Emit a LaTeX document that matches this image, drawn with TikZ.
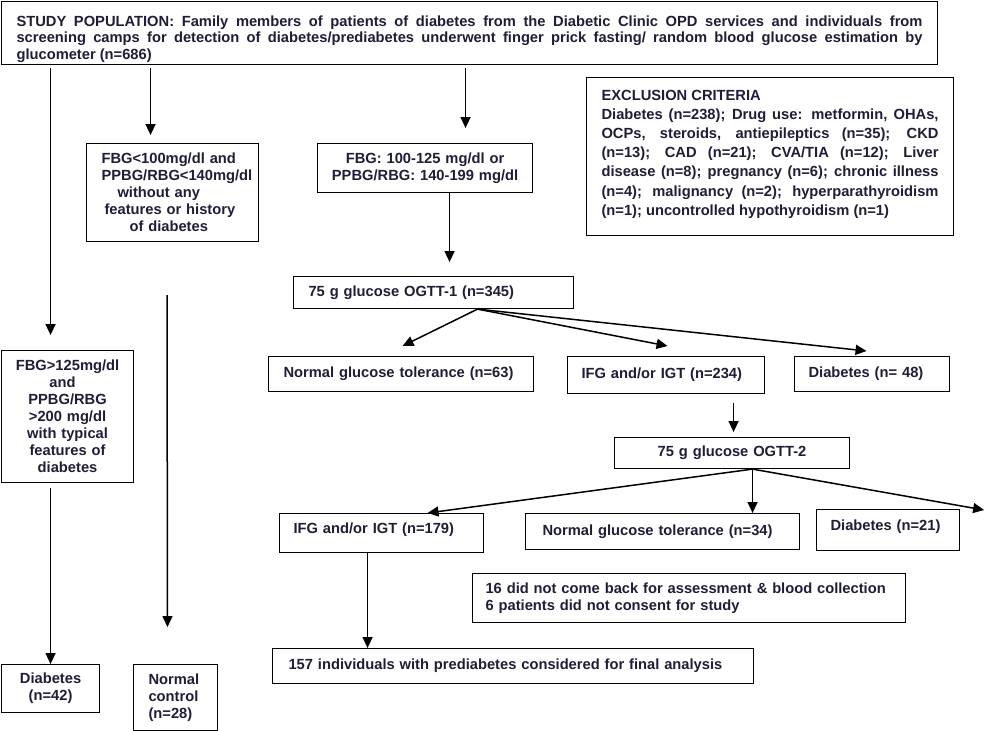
\documentclass[tikz,border=0pt]{standalone}
\usepackage{fontspec}
\setmainfont{Liberation Sans}
\usetikzlibrary{arrows.meta}
\definecolor{txt}{RGB}{30,30,55}
\newcommand\myfnt{\fontsize{14.7}{17}\selectfont\bfseries\hyphenpenalty=10000\tolerance=9999\relax}
\newcommand\myfntT{\fontsize{14.7}{16.5}\selectfont\bfseries\hyphenpenalty=10000\tolerance=9999\relax}
\newcommand\myfntE{\fontsize{14.7}{19.2}\selectfont\bfseries\hyphenpenalty=10000\tolerance=9999\relax}
\begin{document}
\begin{tikzpicture}[x=1pt,y=-1pt,
  box/.style={draw, line width=1.1pt, anchor=north west, inner ysep=0pt, font=\myfnt, text=txt},
  arr/.style={line width=1.5pt, -{Triangle[length=11pt,width=10pt]}}]
\fill[white] (0,0) rectangle (986,731);
\useasboundingbox (0,0) rectangle (986,731);

% boxes
\node[box, font=\myfntT, inner xsep=15pt, text width=906pt, minimum width=936pt, minimum height=63pt, align=justify] (top) at (1,1)
 {\rule{0pt}{22.5pt}STUDY POPULATION: Family members of patients of diabetes from the Diabetic Clinic OPD services and individuals from\linebreak screening camps for detection of diabetes/prediabetes underwent finger prick fasting/ random blood glucose estimation by\linebreak glucometer (n=686)};

\node[box, font=\myfntE, inner xsep=15pt, text width=337pt, minimum height=158pt, align=justify] (excl) at (586,77)
 {EXCLUSION CRITERIA\\Diabetes (n=238); Drug use: metformin, OHAs,\linebreak OCPs, steroids, antiepileptics (n=35); CKD\linebreak (n=13); CAD (n=21); CVA/TIA (n=12); Liver\linebreak disease (n=8); pregnancy (n=6); chronic illness\linebreak (n=4); malignancy (n=2); hyperparathyroidism\linebreak (n=1); uncontrolled hypothyroidism (n=1)\rule[-8pt]{0pt}{8pt}};

\node[box, inner xsep=15pt, text width=142pt, minimum height=98pt, align=left] (fbglow) at (86,143)
 {FBG<100mg/dl and\\PPBG/RBG<140mg/dl\\\hspace*{16pt}without any\\\hspace*{3pt}features or history\\\hspace*{28pt}of diabetes};

\node[box, inner xsep=7pt, text width=201pt, minimum height=49pt, align=center] (fbgmid) at (317,143)
 {FBG: 100-125 mg/dl or\\PPBG/RBG: 140-199 mg/dl};

\node[box, inner xsep=3pt, text width=126pt, minimum height=132pt, align=center] (fbghigh) at (1,350)
 {FBG>125mg/dl\\\hspace*{-10pt}and\\PPBG/RBG\\>200 mg/dl\\with typical\\features of\\diabetes};

\node[box, inner xsep=15pt, text width=250pt, minimum height=32pt, align=left] (ogtt1) at (293,276)
 {75 g glucose OGTT-1 (n=345)};

\node[box, inner xsep=15pt, text width=235pt, minimum height=35pt, align=left] (ngt63) at (268,356)
 {Normal glucose tolerance (n=63)};

\node[box, inner xsep=14pt, text width=169pt, minimum height=37pt, align=left] (ifg234) at (567,356)
 {IFG and/or IGT (n=234)};

\node[box, inner xsep=14pt, text width=127pt, minimum height=35pt, align=left] (diab48) at (794,356)
 {Diabetes (n= 48)};

\node[box, inner xsep=10pt, text width=215pt, minimum height=31pt, align=center] (ogtt2) at (614,437)
 {75 g glucose OGTT-2};

\node[box, inner xsep=14pt, text width=176pt, minimum height=39pt, text depth=9pt, align=left] (ifg179) at (279,513)
 {IFG and/or IGT (n=179)};

\node[box, inner xsep=17pt, text width=240pt, minimum height=36pt, align=left] (ngt34) at (525,513)
 {Normal glucose tolerance (n=34)};

\node[box, inner xsep=14pt, text width=115pt, minimum height=41pt, text depth=9pt, align=left] (diab21) at (816,509)
 {Diabetes (n=21)};

\node[box, inner xsep=13pt, text width=407pt, minimum height=49pt, align=left] (note) at (472,573)
 {16 did not come back for assessment \& blood collection\\6 patients did not consent for study};

\node[box, inner xsep=16pt, text width=449pt, minimum height=35pt, align=left] (final) at (272,648)
 {157 individuals with prediabetes considered for final analysis};

\node[box, inner xsep=5pt, text width=88pt, minimum height=48pt, align=center] (diab42) at (1,664)
 {Diabetes\\(n=42)};

\node[box, inner xsep=15pt, text width=54pt, minimum height=66pt, align=left] (normctl) at (133,664)
 {Normal\\control\\(n=28)};

% connector anchor points
\coordinate (a1) at ([xshift=-17pt]fbghigh.north);
\coordinate (b1) at ([xshift=-22pt]fbglow.north);
\coordinate (c1) at ([xshift=40.5pt]fbgmid.north);
\coordinate (d1) at ([xshift=24.5pt]fbgmid.south);
\coordinate (o1) at ([xshift=44pt]ogtt1.south);
\coordinate (e1) at ([xshift=1.5pt,yshift=10pt]ngt63.north);
\coordinate (f1) at ([xshift=1.5pt,yshift=10pt]ifg234.north);
\coordinate (g1) at ([xshift=-5.5pt,yshift=5pt]diab48.north);
\coordinate (h1) at ([xshift=67.5pt]ifg234.south);
\coordinate (o2) at ([xshift=20.5pt]ogtt2.south);
\coordinate (i1) at ([xshift=46pt]ifg179.north);
\coordinate (k1) at ([xshift=24pt,yshift=-1pt]diab21.north east);
\coordinate (l1) at ([xshift=-14pt]ifg179.south);
\coordinate (m1) at ([xshift=-17pt]fbghigh.south);
\coordinate (n0) at (167,295);
\coordinate (n1) at ([xshift=-8pt]normctl.north);

% connectors
\draw[arr, shorten <=3pt, shorten >=15pt] (top.south -| a1) -- (a1);
\draw[arr, shorten <=3pt, shorten >=8pt] (top.south -| b1) -- (b1);
\draw[arr, shorten <=3pt, shorten >=15pt] (top.south -| c1) -- (c1);
\draw[arr, shorten >=14pt] (d1) -- (d1 |- ogtt1.north);
\draw[arr] (o1) -- (e1);
\draw[arr] (o1) -- (f1);
\draw[arr] (o1) -- (g1);
\draw[arr, shorten <=9pt, shorten >=5pt] (h1) -- (h1 |- ogtt2.north);
\draw[arr] (o2) -- (i1);
\draw[arr] (o2) -- (o2 |- ngt34.north);
\draw[arr] (o2) -- (k1);
\draw[arr] (l1) -- (l1 |- final.north);
\draw[arr, shorten <=5pt] (m1) -- (m1 |- diab42.north);
\draw[arr, shorten >=37pt] (n0) -- (n1);
\end{tikzpicture}
\end{document}
